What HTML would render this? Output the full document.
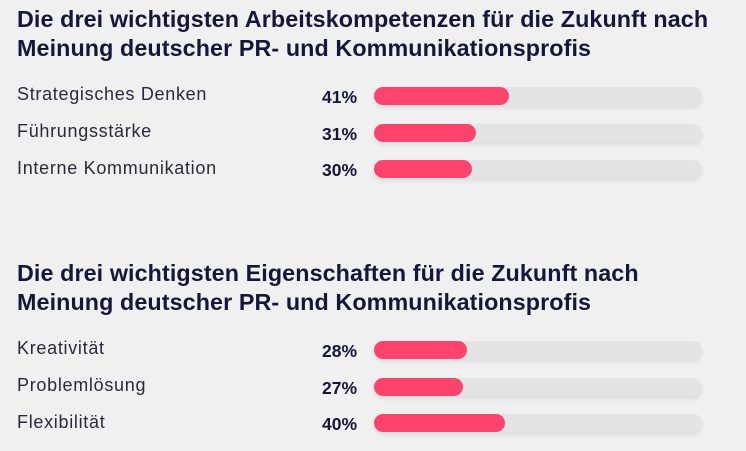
<!DOCTYPE html>
<html><head><style>
body{margin:0;width:746px;height:451px;background:#f0f0f0;font-family:"Liberation Sans",sans-serif;position:relative;overflow:hidden}
.t{position:absolute;left:17px;font-weight:bold;font-size:23.3px;line-height:29px;color:#16163a;letter-spacing:0.1px;white-space:nowrap}
.l{position:absolute;left:17px;font-size:18px;color:#2a2a3a;letter-spacing:0.7px}
.p{position:absolute;left:322px;font-size:17.5px;font-weight:bold;color:#16163a}
.b{position:absolute;left:374px;width:328px;height:18px;border-radius:9px;background:#e4e4e4;box-shadow:0 3px 4px rgba(0,0,0,0.08)}
.b i{display:block;height:100%;border-radius:9px;background:#fe446d}
</style></head><body>
<div class="t" style="top:5px">Die drei wichtigsten Arbeitskompetenzen für die Zukunft nach<br>Meinung deutscher PR- und Kommunikationsprofis</div>
<div class="l" style="top:84px">Strategisches Denken</div>
<div class="l" style="top:121px">Führungsstärke</div>
<div class="l" style="top:158px">Interne Kommunikation</div>
<div class="p" style="top:87px">41%</div>
<div class="p" style="top:124px">31%</div>
<div class="p" style="top:160px">30%</div>
<div class="b" style="top:87px"><i style="width:135px"></i></div>
<div class="b" style="top:124px"><i style="width:102px"></i></div>
<div class="b" style="top:160px"><i style="width:98px"></i></div>
<div class="t" style="top:259px">Die drei wichtigsten Eigenschaften für die Zukunft nach<br>Meinung deutscher PR- und Kommunikationsprofis</div>
<div class="l" style="top:338px">Kreativität</div>
<div class="l" style="top:375px">Problemlösung</div>
<div class="l" style="top:412px">Flexibilität</div>
<div class="p" style="top:341px">28%</div>
<div class="p" style="top:378px">27%</div>
<div class="p" style="top:414px">40%</div>
<div class="b" style="top:341px"><i style="width:93px"></i></div>
<div class="b" style="top:378px"><i style="width:89px"></i></div>
<div class="b" style="top:414px"><i style="width:131px"></i></div>
</body></html>
